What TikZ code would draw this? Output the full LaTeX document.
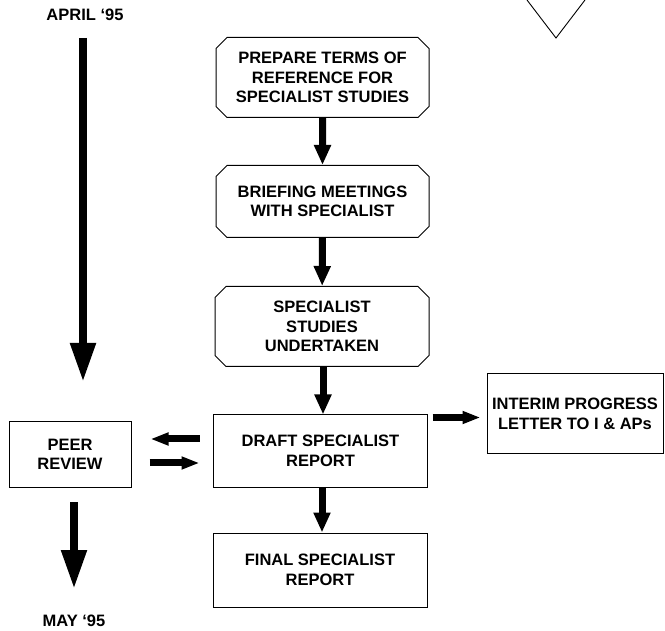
\documentclass[tikz,border=0pt]{standalone}
\usepackage{fontspec}
\setmainfont{Liberation Sans}
\usetikzlibrary{arrows.meta, calc, shapes.misc}
\tikzset{every node/.append style = {font=\bfseries\fontsize{16.5}{19.5}\selectfont, align=center}}
\tikzset{stage/.style = {draw, line width=1pt, chamfered rectangle, chamfered rectangle sep=5.5pt, inner sep=0pt}}
\tikzset{report/.style = {draw, line width=1pt, rectangle, inner sep=0pt}}
\tikzset{flow/.style = {line width=7pt, -{Triangle[width=16pt, length=20pt]}}}
\tikzset{side/.style = {line width=7pt, -{Triangle[width=12pt, length=18pt]}}}
\tikzset{time/.style = {line width=8pt, -{Triangle[width=24pt, length=39pt]}}}

\begin{document}
\begin{tikzpicture}[x=1pt, y=-1pt]
\useasboundingbox (0,0) rectangle (665,631);
% corner mark
\draw [line width=0.9pt] (527,0) -- (556,38) -- (585,0);
% time line
\node (april) at (85,15) {APRIL ‘95};
\node (may) at (74,621) {MAY ‘95};
\coordinate (t1) at (83,38);
\coordinate (t2) at (83,382);
\coordinate (m1) at (74,502);
\coordinate (m2) at (74,589);
\draw [time] (t1) -- (t2);
\draw [time] (m1) -- (m2);
% main column
\node [stage, minimum width=213pt, minimum height=80pt] (prep) at (322.5,77.5) {PREPARE TERMS OF\\REFERENCE FOR\\SPECIALIST STUDIES};
\node [stage, minimum width=213pt, minimum height=72pt] (brief) at (322.5,201.5) {BRIEFING MEETINGS\\WITH SPECIALIST};
\node [stage, minimum width=214pt, minimum height=80pt] (studies) at (322,326.5) {SPECIALIST\\STUDIES\\UNDERTAKEN};
\node [report, minimum width=214pt, minimum height=72pt] (draft) at (320.5,451) {DRAFT SPECIALIST\\REPORT};
\node [report, minimum width=214pt, minimum height=74pt] (final) at (320,570) {FINAL SPECIALIST\\REPORT};
\node [report, minimum width=122pt, minimum height=65pt] (peer) at (70,454.5) {PEER\\REVIEW};
\node [report, minimum width=176pt, minimum height=80pt] (interim) at (575,414) {INTERIM PROGRESS\\LETTER TO I \& APs};
\draw [flow] (prep) -- (brief);
\draw [flow] (brief) -- (studies);
\draw [flow] ($(studies.south)+(1,0)$) -- ($(draft.north)+(2.5,0)$);
\draw [flow] ($(draft.south)+(1.5,0)$) -- ($(final.north)+(2,0)$);
\draw [side, shorten <=13.5pt, shorten >=19pt] ([yshift=12pt]draft.west) -- ([yshift=12pt]draft.west -| peer.east);
\draw [side, shorten <=18pt, shorten >=13.5pt] ([yshift=-12pt]draft.west -| peer.east) -- ([yshift=-12pt]draft.west);
\draw [side, shorten <=4.5pt, shorten >=6pt] ([yshift=-3pt]draft.north east) -- ([yshift=-3pt]draft.north east -| interim.west);
\end{tikzpicture}
\end{document}
